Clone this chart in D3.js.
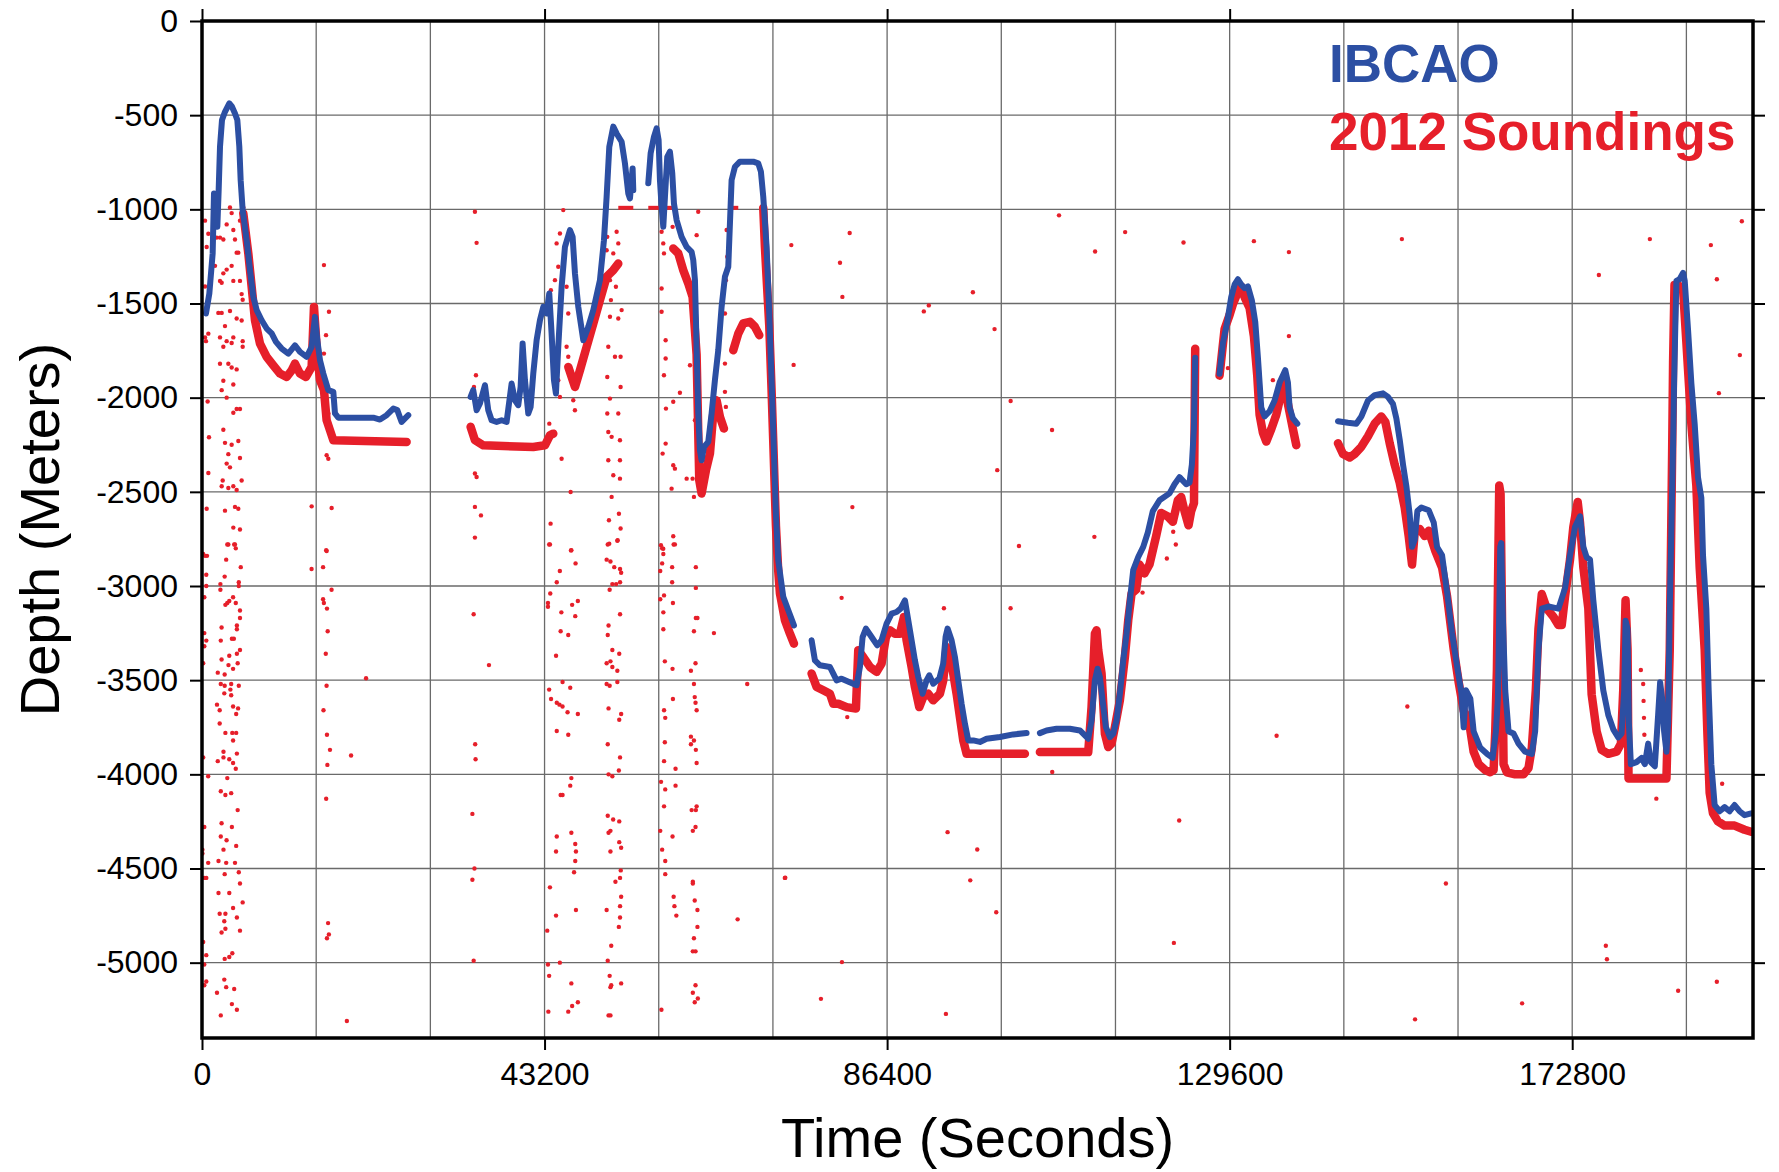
<!DOCTYPE html>
<html>
<head>
<meta charset="utf-8">
<script src="https://cdn.jsdelivr.net/npm/d3@7"></script>
<style>
  body { margin: 0; background: #fff; }
  text { font-family: "Liberation Sans", Arial, Helvetica, sans-serif; }
</style>
</head>
<body>
<div id="chart"></div>
<script>
// ---- tick values ----
let timeTicks = [0, 43200, 86400, 129600, 172800];
let timeGrid = [14400, 28800, 43200, 57600, 72000, 86400, 100800, 115200, 129600, 144000, 158400, 172800, 187200];
let depthTicks = [0, -500, -1000, -1500, -2000, -2500, -3000, -3500, -4000, -4500, -5000];

// ---- IBCAO depth along track [seconds, metres], one array per continuous leg ----
let ibcaoLeg1 = [[500,-1553],[925,-1447],[1345,-1234],[1513,-916],[1765,-1022],[1933,-1093],[2102,-898],[2270,-668],[2522,-526],[2900,-482],[3446,-437],[3783,-455],[4161,-491],[4455,-526],[4707,-668],[4875,-845],[5128,-1004],[5632,-1164],[6052,-1323],[6473,-1465],[6893,-1535],[7523,-1589],[8154,-1633],[8784,-1659],[9331,-1704],[10045,-1739],[10886,-1766],[11726,-1722],[12357,-1757],[13197,-1783],[13828,-1730],[14248,-1571],[14542,-1695],[14879,-1801],[15299,-1872],[15929,-1960],[16560,-1969],[16770,-2084],[17190,-2106],[21603,-2106],[22444,-2116],[23284,-2093],[24125,-2058],[24629,-2066],[25175,-2129],[26016,-2093]];
let ibcaoLeg2 = [[33876,-1996],[34212,-1960],[34633,-2067],[35053,-2031],[35683,-1934],[36104,-2067],[36524,-2120],[37155,-2129],[37785,-2120],[38415,-2129],[39046,-1925],[39466,-2014],[39886,-2040],[40181,-1943],[40433,-1713],[40727,-1907],[41147,-2084],[41441,-2049],[41778,-1872],[42198,-1695],[42618,-1589],[43039,-1518],[43459,-1553],[43795,-1447],[44089,-1660],[44384,-1907],[44636,-1978],[44930,-1730],[45354,-1411],[45774,-1199],[46404,-1110],[46741,-1146],[47035,-1341],[47455,-1518],[48086,-1695],[48716,-1624],[49346,-1535],[50187,-1376],[50691,-1164],[51028,-933],[51364,-668],[51868,-561],[52289,-597],[52919,-641],[53339,-756],[53760,-916],[53970,-942],[54306,-783],[54390,-898]];
let ibcaoLeg3 = [[56281,-862],[56576,-703],[56996,-615],[57332,-570],[57584,-632],[57752,-845],[57963,-986],[58173,-1093],[58383,-933],[58677,-721],[59013,-694],[59307,-809],[59518,-969],[59854,-1057],[60484,-1146],[61115,-1199],[61745,-1226],[61955,-1270],[62166,-1376],[62376,-1730],[62586,-2084],[62796,-2279],[63006,-2332],[63300,-2262],[63846,-2235],[64267,-2084],[64687,-1907],[65108,-1748],[65528,-1518],[65948,-1358],[66369,-1305],[66789,-845],[67209,-774],[67840,-747],[69521,-747],[70151,-756],[70487,-800],[70781,-933],[71202,-1199],[71538,-1553],[71832,-1907],[72042,-2173],[72378,-2616],[72672,-2864],[73306,-3058],[73937,-3129],[74651,-3209]];
let ibcaoLeg4 = [[76879,-3288],[77299,-3395],[77930,-3421],[79190,-3430],[79611,-3465],[80031,-3501],[80662,-3492],[82553,-3527],[82973,-3430],[83309,-3271],[83730,-3226],[84444,-3271],[85159,-3315],[85705,-3288],[86336,-3200],[86966,-3147],[87596,-3138],[88101,-3120],[88647,-3076],[89068,-3182],[89488,-3288],[89908,-3395],[90329,-3483],[90875,-3572],[91380,-3501],[91716,-3474],[92220,-3519],[92977,-3492],[93481,-3412],[93775,-3271],[94028,-3226],[94532,-3288],[94952,-3377],[95373,-3501],[95793,-3625],[96213,-3731],[96634,-3820],[97264,-3820],[98105,-3828],[98946,-3811],[100626,-3802],[102308,-3788],[103988,-3781]];
let ibcaoLeg5 = [[105669,-3781],[106510,-3767],[107771,-3758],[109452,-3758],[110713,-3767],[111344,-3793],[111764,-3811],[112184,-3713],[112606,-3501],[112942,-3439],[113236,-3483],[113572,-3607],[113992,-3749],[114497,-3802],[114917,-3784],[115337,-3713],[115757,-3572],[116178,-3395],[116598,-3253],[117018,-3076],[117439,-2916],[118069,-2846],[118700,-2792],[119281,-2716],[119912,-2602],[120753,-2545],[122015,-2508],[122646,-2460],[123277,-2422],[124119,-2460],[124540,-2451],[124834,-2356],[125087,-2167],[125255,-1788]];
let ibcaoLeg6 = [[128326,-1873],[128747,-1712],[129294,-1598],[129799,-1466],[130220,-1400],[130640,-1371],[131061,-1400],[131482,-1419],[131902,-1409],[132407,-1485],[132828,-1598],[133165,-1788],[133585,-2053],[134006,-2100],[134637,-2072],[135268,-2015],[135899,-1920],[136614,-1854],[136951,-1920],[137161,-2053],[137582,-2110],[138129,-2138]];
let ibcaoLeg7 = [[143261,-2125],[144523,-2133],[145575,-2138],[146206,-2100],[147047,-2015],[147888,-1987],[148940,-1977],[149571,-1996],[150202,-2034],[150623,-2110],[151044,-2223],[151464,-2356],[151885,-2470],[152306,-2621],[152600,-2792],[152937,-2754],[153273,-2602],[153778,-2583],[154711,-2598],[155340,-2663],[155759,-2793],[156388,-2837],[157017,-3033],[157645,-3250],[158274,-3424],[158819,-3565],[159113,-3750],[159406,-3554],[159951,-3598],[160370,-3772],[161209,-3859],[162047,-3891],[162760,-3913],[163179,-3772],[163430,-3598],[163724,-2793],[163850,-2772],[164017,-3120],[164353,-3554],[164772,-3772],[165401,-3783],[166030,-3837],[166868,-3880],[167707,-3891],[168126,-3772],[168545,-3337],[168964,-3120],[169803,-3109],[171060,-3120],[171899,-3011],[172528,-2837],[173157,-2685],[173785,-2630],[174205,-2793],[174624,-2848],[175043,-2859],[175462,-3076],[176091,-3337],[176720,-3554],[177349,-3685],[177978,-3761],[178606,-3804],[179025,-3783],[179360,-3554],[179528,-3185],[179780,-3228],[179947,-3728],[180199,-3946],[180911,-3935],[181540,-3913],[181959,-3946],[182379,-3837],[182714,-3935],[183217,-3957],[183636,-3685],[183888,-3511],[184139,-3598],[184391,-3772],[184684,-3880],[184894,-3728],[185103,-3120],[185313,-2685],[185522,-2250],[185648,-1924],[185816,-1598],[185942,-1380],[186361,-1370],[186780,-1337],[186990,-1380],[187409,-1641],[187828,-1924],[188247,-2141],[188666,-2424],[189086,-2533],[189295,-2837],[189714,-3120],[190008,-3554],[190343,-3946],[190762,-4163],[191391,-4196],[192020,-4174],[192649,-4196],[193277,-4163],[193906,-4196],[194535,-4217],[195373,-4207]];

// ---- 2012 soundings: main trace per leg ----
let soundLeg1 = [[5212,-1022],[5842,-1234],[6262,-1411],[6683,-1589],[7313,-1713],[8154,-1783],[8994,-1828],[9835,-1872],[10676,-1890],[11306,-1855],[11726,-1819],[12357,-1872],[13113,-1890],[13828,-1837],[14122,-1518],[14458,-1730],[14879,-1907],[15383,-1960],[15719,-2120],[16140,-2173],[16560,-2226],[25806,-2235]];
let soundLeg2a = [[33876,-2155],[34422,-2226],[35473,-2253],[41778,-2262],[43249,-2253],[43879,-2200],[44300,-2191]];
let soundLeg2b = [[46194,-1837],[47035,-1943],[47665,-1854],[48506,-1730],[49346,-1606],[50187,-1482],[51028,-1358],[51868,-1323],[52499,-1288]];
let soundLeg3a = [[59434,-1208],[60064,-1234],[60695,-1323],[61325,-1394],[61871,-1465],[62376,-1771],[62712,-2439],[63006,-2509],[63552,-2386],[64057,-2297],[64477,-2084],[64898,-2014],[65318,-2102],[65822,-2164]];
let soundLeg3b = [[66999,-1748],[67630,-1660],[68260,-1606],[69101,-1597],[69731,-1624],[70277,-1668]];
let soundLeg3c = [[70781,-992],[70991,-1199],[71250,-1400],[71540,-1620],[71830,-1960],[72040,-2230],[72380,-2680],[72670,-2920],[72886,-3040],[73516,-3182],[74147,-3253],[74651,-3306]];
let soundLeg4 = [[76879,-3465],[77510,-3536],[78350,-3554],[79190,-3572],[79611,-3625],[80241,-3625],[81292,-3643],[82469,-3651],[82763,-3341],[83393,-3377],[84234,-3430],[85075,-3456],[85705,-3412],[86252,-3271],[86756,-3235],[87386,-3253],[88017,-3253],[88521,-3164],[88857,-3288],[89488,-3430],[89908,-3536],[90455,-3643],[90959,-3589],[91590,-3572],[92220,-3607],[93061,-3572],[93481,-3501],[93902,-3324],[94322,-3377],[94742,-3465],[95163,-3572],[95583,-3696],[96003,-3820],[96424,-3891],[98105,-3891],[103778,-3891]];
let soundLeg5 = [[105669,-3882],[111764,-3882],[112184,-3643],[112606,-3253],[112816,-3235],[113026,-3341],[113446,-3465],[113866,-3784],[114287,-3855],[114707,-3837],[115127,-3749],[115757,-3607],[116388,-3377],[116808,-3182],[117229,-3040],[117808,-3019],[118229,-2886],[118860,-2933],[119491,-2886],[120332,-2735],[120964,-2612],[121805,-2631],[122436,-2659],[123067,-2545],[123488,-2527],[123909,-2602],[124413,-2678],[124750,-2602],[125100,-2560],[125255,-1740]];
let soundLeg6 = [[128326,-1883],[128957,-1636],[129588,-1561],[130009,-1504],[130640,-1438],[131061,-1409],[131482,-1466],[132113,-1523],[132660,-1674],[133081,-1883],[133375,-2091],[133796,-2186],[134217,-2233],[134847,-2167],[135478,-2091],[136109,-1977],[136530,-1902],[136951,-2034],[137582,-2167],[138002,-2252]];
let soundLeg7 = [[143261,-2242],[143892,-2299],[144733,-2318],[145364,-2299],[146206,-2261],[147047,-2205],[147888,-2138],[148729,-2100],[149234,-2129],[149781,-2242],[150412,-2356],[151044,-2451],[151674,-2583],[152179,-2735],[152600,-2886],[152937,-2716],[153568,-2697],[154199,-2735],[154711,-2707],[155549,-2815],[156388,-2902],[157017,-3054],[157855,-3337],[158484,-3511],[159113,-3663],[159741,-3707],[160370,-3880],[161000,-3946],[161838,-3978],[162467,-3989],[162886,-3978],[163095,-3772],[163305,-3446],[163598,-2467],[163766,-2511],[163933,-3120],[164143,-3946],[164562,-3989],[165610,-4000],[166658,-4000],[167287,-3967],[167707,-3859],[168210,-3554],[168545,-3228],[168964,-3043],[169593,-3120],[170432,-3163],[171060,-3207],[171479,-3207],[171899,-3054],[172528,-2859],[172947,-2685],[173492,-2554],[173785,-2663],[174205,-2902],[174834,-3120],[175253,-3576],[175882,-3772],[176511,-3870],[177349,-3891],[178397,-3880],[178941,-3837],[179234,-3554],[179528,-3076],[179780,-3337],[179900,-4022],[184684,-4022],[185103,-3337],[185400,-2300],[185522,-1815],[185700,-1402],[186152,-1402],[186780,-1424],[187200,-1707],[187828,-2141],[188457,-2467],[188876,-2902],[189505,-3337],[189840,-3772],[190134,-4098],[190553,-4207],[191182,-4250],[192020,-4272],[193277,-4272],[194535,-4294],[195373,-4305]];

// soundings pinned at the -1000 m gate: [start, end] seconds
let clippedRuns = [[52499,54390],[56281,59434],[66369,67630],[70361,70781]];
let clippedDepth = -992;

// ---- 2012 soundings: scattered returns ----
let scatterStartUpper = [[380,-1060],[800,-1130],[590,-1200],[1430,-1110],[1640,-1060],[1850,-1150],[2270,-1150],[2690,-1160],[3110,-1080],[3530,-990],[3740,-1020],[3950,-1110],[4160,-1160],[4370,-1230],[4790,-1060],[5000,-1020],[5210,-990],[5420,-1130],[380,-1410],[1010,-1380],[1640,-1300],[2270,-1380],[2480,-1390],[2690,-1340],[3110,-1320],[3740,-1300],[3950,-1380],[4580,-1230],[4790,-1380],[5000,-1450],[5130,-1480],[380,-1680],[800,-1660],[500,-1700],[2060,-1550],[2480,-1550],[2900,-1620],[3530,-1540],[4370,-1580],[5000,-1590],[2270,-1680],[2690,-1730],[3110,-1700],[3740,-1710],[3950,-1680],[5130,-1700],[5130,-1730],[2270,-1820],[3320,-1820],[3740,-1840],[4370,-1850],[2690,-1910],[3950,-1930],[2480,-1960],[3110,-2000],[3950,-2080],[4370,-2060],[4790,-2060],[710,-2020],[880,-2210],[2690,-2170],[2900,-2240],[3740,-2250],[3320,-2300],[4580,-2230],[4790,-2320],[3110,-2350],[3530,-2370],[800,-2400],[2610,-2440],[2480,-2470],[3320,-2480],[3950,-2470],[4370,-2490],[5000,-2440],[4580,-2590],[2900,-2600],[4160,-2580],[3950,-2690],[4790,-2700],[3320,-2780],[4160,-2780],[590,-2590],[380,-2840]];
let scatterStartLower = [[150,-2830],[630,-2840],[540,-2940],[540,-3000],[290,-3060],[290,-3250],[540,-3290],[290,-3320],[150,-3410],[150,-3910],[780,-4010],[290,-4280],[50,-4400],[50,-4420],[780,-4470],[290,-4550],[540,-4550],[150,-4890],[540,-4960],[290,-5010],[540,-5100],[290,-5120],
  [3190,-2780],[4060,-2780],[4260,-2800],[3050,-2860],[4890,-2900],[2860,-2950],[4640,-2980],[2320,-2990],[4640,-3000],[2320,-3020],[3920,-3060],[3440,-3080],[3190,-3090],[2950,-3100],[4260,-3090],[4790,-3130],[4790,-3170],[4400,-3210],[2470,-3220],[4400,-3230],[3770,-3280],[4020,-3280],[2370,-3290],[4790,-3340],[3440,-3370],[4400,-3360],[2470,-3390],[4500,-3410],[3340,-3420],[3920,-3440],[1990,-3460],[2860,-3470],[2370,-3520],[2860,-3530],[3680,-3520],[4640,-3530],[2810,-3570],[3680,-3580],[3580,-3550],[1890,-3630],[3920,-3640],[4550,-3650],[2230,-3660],[4310,-3680],[2230,-3730],[2950,-3780],[3820,-3780],[4310,-3780],[3920,-3820],[2710,-3880],[4400,-3890],[1990,-3930],[2710,-3910],[3440,-3920],[3920,-3940],[4260,-3970],[3190,-4020],[2370,-4090],[2950,-4110],[3680,-4100],[4500,-4190],[2470,-4260],[3770,-4280],[2370,-4330],[3100,-4350],[4310,-4380],[2710,-4400],[2080,-4460],[3050,-4470],[4160,-4470],[2860,-4530],[4640,-4520],[4790,-4580],[2080,-4630],[3440,-4630],[5130,-4680],[3920,-4710],[2230,-4740],[2950,-4740],[4400,-4760],[2810,-4780],[2950,-4820],[2470,-4840],[4790,-4830],[3820,-4950],[3440,-4970],[2860,-4980],[2810,-5090],[3050,-5130],[4060,-5140],[1890,-5160],[3770,-5220],[4400,-5250],[2370,-5280]];
let scatter15k = [[15380,-1296],[16010,-1544],[15640,-1668],[15380,-1766],[15380,-1996],[15720,-2040],[15930,-2084],[15720,-2306],[15930,-2324],[16350,-2586],[13830,-2577],[15720,-2814],
  [13820,-2910],[15270,-2900],[15660,-2810],[16340,-3020],[15270,-3070],[15370,-3090],[15760,-3120],[15850,-3240],[15610,-3360],[15710,-3530],[15320,-3660],[15760,-3790],[16140,-3870],[18800,-3900],[15810,-3950],[20690,-3490],[15660,-4130],[15900,-4790],[16000,-4850],[15760,-4870],[18270,-5310]];
let scatter34k = [[34420,-1013],[34630,-1178],[34550,-1881],[34300,-1943],[34420,-2403],[34630,-2421],[34420,-2580],[35180,-2625],[34420,-2743],
  [34260,-3150],[36190,-3420],[34450,-3840],[34500,-3920],[34100,-4210],[34360,-4500],[34100,-4560],[34260,-4990]];
let scatter44k = [[43800,-2138],[44000,-1429],[45350,-2324],[46490,-2501],[43960,-2669],[43880,-2779],[46530,-2811],[45560,-1004],[45140,-1128],[44720,-1181],[44930,-1305],[44510,-1376],[45980,-1411],[46190,-1553],[45980,-1730],[46190,-1783],[44930,-1907],[45140,-1996],[46820,-2014],[47030,-2067],
  [43780,-2780],[46580,-2810],[47110,-2880],[45130,-2920],[44740,-2980],[43920,-3040],[43630,-3090],[43630,-3110],[45320,-3140],[46680,-3100],[47400,-3080],[47070,-3160],[45230,-3240],[46190,-3260],[44650,-3370],[43780,-3550],[45470,-3510],[46440,-3540],[44020,-3600],[44740,-3620],[45080,-3630],[45470,-3640],[46100,-3670],[47400,-3680],[44740,-3770],[46190,-3790],[46580,-4020],[46440,-4060],[45230,-4110],[45470,-4110],[44740,-4330],[46580,-4310],[47070,-4370],[47160,-4410],[47070,-4460],[44650,-4410],[46920,-4520],[43880,-4600],[47160,-4720],[44650,-4750],[43540,-4830],[43630,-5010],[45130,-5000],[43780,-5070],[46580,-5110],[47400,-5210],[46680,-5230],[46190,-5260],[43680,-5260]];
let scatter51k = [[51110,-1146],[51240,-1730],[51110,-1890],[51450,-2005],[51110,-2084],[52500,-2084],[51240,-2182],[51660,-2208],[52710,-2332],[51240,-2332],[51870,-2412],[52710,-2430],[51660,-2527],[52580,-2616],[51320,-2651],[52790,-2695],[52420,-2757],[51360,-2775],[52710,-2226],[52790,-1943],[52080,-1783],[52790,-1783],[52500,-1580],[52920,-1535],[51450,-1570],[51570,-1482],[52200,-1411],[52290,-1305],[51870,-1234],[52500,-1181],[52290,-1119],[51030,-1217],[51450,-1376],
  [51170,-2780],[52380,-2760],[51030,-2860],[51510,-2870],[51990,-2900],[52720,-2910],[52860,-2930],[52720,-2980],[51750,-2990],[52230,-2990],[51410,-3020],[52720,-3150],[51270,-3210],[51170,-3260],[51750,-3340],[52620,-3360],[51030,-3410],[51510,-3400],[51750,-3430],[52380,-3450],[51030,-3520],[51410,-3530],[52380,-3510],[51270,-3650],[52860,-3680],[52620,-3710],[51170,-3840],[52720,-3910],[52570,-3980],[51270,-4000],[51750,-4010],[51170,-4220],[51850,-4240],[52620,-4250],[51510,-4300],[51270,-4310],[52620,-4360],[52860,-4390],[51510,-4410],[52810,-4510],[52720,-4550],[52140,-4570],[52860,-4650],[52720,-4700],[51030,-4720],[52720,-4760],[52570,-4810],[51610,-4910],[51170,-4990],[51410,-5070],[51610,-5120],[51510,-5130],[52860,-5110],[51270,-5280],[51510,-5280]];
let scatter58k = [[57960,-1119],[58170,-1181],[58260,-1234],[57960,-1420],[57960,-1544],[58470,-1695],[58470,-1792],[58260,-1881],[59430,-2022],[58510,-2058],[60270,-1974],[58470,-2244],[58090,-2297],[59430,-2359],[59640,-2377],[59220,-2483],[59430,-2736],[59640,-2779],[58170,-2802],[57880,-2784],[59350,-1093],[62580,-1013],[62380,-1137],[61540,-1828],[62170,-2120],[61120,-2430],[61870,-2430],[62040,-2527],
  [58030,-2800],[59480,-2780],[58180,-2830],[58030,-2880],[59290,-2900],[57790,-2920],[62280,-2900],[59290,-2980],[62280,-3010],[58270,-3050],[57790,-3070],[59390,-3090],[58180,-3140],[62280,-3170],[62480,-3170],[58180,-3230],[62040,-3240],[64560,-3250],[58370,-3400],[62240,-3410],[59340,-3440],[61660,-3450],[62040,-3520],[62140,-3590],[62240,-3620],[62380,-3660],[59390,-3600],[58270,-3660],[58420,-3700],[61660,-3800],[62040,-3820],[61660,-3840],[62280,-3870],[58370,-3830],[58270,-3930],[59720,-3970],[62380,-3940],[57890,-4040],[58420,-4080],[59720,-4060],[62380,-4170],[61750,-4190],[62280,-4190],[58270,-4170],[62240,-4280],[61900,-4300],[57790,-4300],[59340,-4330],[58030,-4400],[58420,-4460],[58420,-4530],[61900,-4570],[61900,-4580],[62140,-4670],[59480,-4650],[59580,-4700],[62480,-4720],[59820,-4750],[62480,-4810],[62040,-4870],[61900,-4940],[62240,-4940],[62240,-5120],[61900,-5160],[62530,-5190],[62140,-5210],[57940,-5250]];
let scatter66k = [[66160,-1110],[66240,-1252],[66070,-1376],[65950,-1553],[65950,-1819],[65950,-1969],[66070,-2049],[68760,-3520],[67550,-4770],[73500,-4550]];
let scatterMiddle = [[74320,-1190],[81680,-1126],[80460,-1284],[80760,-1465],[74610,-1826],[82020,-2581],[91030,-1542],[91660,-1510],[97220,-1440],[99950,-1636],[101980,-2018],[100290,-2385],[107200,-2172],[103030,-2788],[108080,-1032],[112630,-1224],[116420,-1121],[123780,-1176],[112540,-2739],[121680,-2854],[122810,-2780],[122480,-2712],
  [80662,-3063],[93565,-3118],[101971,-3118],[118616,-3035],[81376,-3696],[107225,-3988],[123236,-4245],[94028,-4307],[97768,-4399],[73559,-4549],[96886,-4563],[100164,-4732],[122565,-4895],[80704,-4997],[78056,-5192],[93817,-5272]];
let scatterRight = [[132657,-1169],[137071,-1227],[151320,-1158],[137071,-1673],[182593,-1158],[176162,-1349],[190286,-1190],[191042,-1371],[194194,-1063],[193942,-1774],[191294,-1976],[135053,-1907],[129379,-1843],[135520,-3795],[152011,-3640],
  [156870,-4580],[152980,-5301],[166480,-5216],[177040,-4910],[177180,-4982],[186160,-5149],[191040,-5101],[183410,-4129],[191710,-4050],[181456,-3446],[181750,-3520],[181800,-3610],[181850,-3700],[181900,-3790]];

let ibcaoLegs = [ibcaoLeg1, ibcaoLeg2, ibcaoLeg3, ibcaoLeg4, ibcaoLeg5, ibcaoLeg6, ibcaoLeg7];
let soundLegs = [soundLeg1, soundLeg2a, soundLeg2b, soundLeg3a, soundLeg3b, soundLeg3c, soundLeg4, soundLeg5, soundLeg6, soundLeg7];
let scatter = [].concat(scatterStartUpper, scatterStartLower, scatter15k, scatter34k, scatter44k, scatter51k, scatter58k, scatter66k, scatterMiddle, scatterRight);

let blue = "#2c4fa3";
let red = "#e61f2a";

let svgWidth = 1779;
let svgHeight = 1172;
let margin = { top: 21, right: 26, bottom: 134, left: 202 };
let width = svgWidth - margin.left - margin.right;
let height = svgHeight - margin.top - margin.bottom;

let svg = d3.select("#chart")
  .append("svg")
  .attr("width", svgWidth)
  .attr("height", svgHeight);

let chartGroup = svg.append("g")
  .attr("transform", `translate(${margin.left}, ${margin.top})`);

let x = d3.scaleLinear().domain([0, 195600]).range([0, width]);
let y = d3.scaleLinear().domain([-5400, 0]).range([height, 0]);

svg.append("defs").append("clipPath").attr("id", "plotClip")
  .append("rect").attr("width", width).attr("height", height);

// grid
chartGroup.append("g").selectAll("line")
  .data(timeGrid)
  .enter().append("line")
  .attr("x1", d => x(d)).attr("x2", d => x(d))
  .attr("y1", 0).attr("y2", height)
  .attr("stroke", "#6a6a6a").attr("stroke-width", 1.3);

chartGroup.append("g").selectAll("line")
  .data(depthTicks.filter(d => d < 0))
  .enter().append("line")
  .attr("x1", 0).attr("x2", width)
  .attr("y1", d => y(d)).attr("y2", d => y(d))
  .attr("stroke", "#6a6a6a").attr("stroke-width", 1.3);

let plot = chartGroup.append("g").attr("clip-path", "url(#plotClip)");

let line = d3.line().x(d => x(d[0])).y(d => y(d[1]));

// scattered soundings
plot.append("g").selectAll("circle")
  .data(scatter)
  .enter().append("circle")
  .attr("cx", d => x(d[0]))
  .attr("cy", d => y(d[1]))
  .attr("r", 2.2)
  .attr("fill", red);

// gated soundings
plot.append("g").selectAll("line")
  .data(clippedRuns)
  .enter().append("line")
  .attr("x1", d => x(d[0])).attr("x2", d => x(d[1]))
  .attr("y1", y(clippedDepth)).attr("y2", y(clippedDepth))
  .attr("stroke", red).attr("stroke-width", 4);

// sounding traces
plot.append("g").selectAll("path")
  .data(soundLegs)
  .enter().append("path")
  .attr("d", line)
  .attr("fill", "none")
  .attr("stroke", red)
  .attr("stroke-width", 8.5)
  .attr("stroke-linejoin", "round")
  .attr("stroke-linecap", "round");

// IBCAO traces
plot.append("g").selectAll("path")
  .data(ibcaoLegs)
  .enter().append("path")
  .attr("d", line)
  .attr("fill", "none")
  .attr("stroke", blue)
  .attr("stroke-width", 6)
  .attr("stroke-linejoin", "round")
  .attr("stroke-linecap", "round");

// axes
function styleAxis(g) {
  g.select(".domain").remove();
  g.selectAll(".tick line").attr("stroke", "#000").attr("stroke-width", 2);
  g.selectAll(".tick text")
    .attr("fill", "#000")
    .attr("font-size", 32)
    .attr("font-family", "'Liberation Sans', Arial, Helvetica, sans-serif");
}

chartGroup.append("g")
  .attr("transform", `translate(0, ${height})`)
  .call(d3.axisBottom(x).tickValues(timeTicks).tickSize(12).tickPadding(12).tickFormat(d => String(d)))
  .call(styleAxis);

chartGroup.append("g")
  .call(d3.axisTop(x).tickValues(timeTicks).tickSize(12).tickFormat(""))
  .call(styleAxis);

chartGroup.append("g")
  .call(d3.axisLeft(y).tickValues(depthTicks).tickSize(12).tickPadding(12).tickFormat(d => String(d)))
  .call(styleAxis);

chartGroup.append("g")
  .attr("transform", `translate(${width}, 0)`)
  .call(d3.axisRight(y).tickValues(depthTicks).tickSize(12).tickFormat(""))
  .call(styleAxis);

// frame
chartGroup.append("rect")
  .attr("width", width)
  .attr("height", height)
  .attr("fill", "none")
  .attr("stroke", "#000")
  .attr("stroke-width", 3.5);

// axis titles
svg.append("text")
  .attr("x", margin.left + width / 2)
  .attr("y", 1157)
  .attr("text-anchor", "middle")
  .attr("font-size", 56)
  .text("Time (Seconds)");

svg.append("text")
  .attr("transform", `translate(59, ${margin.top + height / 2}) rotate(-90)`)
  .attr("text-anchor", "middle")
  .attr("font-size", 56)
  .text("Depth (Meters)");

// legend
svg.append("text")
  .attr("x", 1329).attr("y", 82)
  .attr("font-family", "'Open Sans', 'Noto Sans', sans-serif")
  .attr("font-weight", 700)
  .attr("font-size", 53)
  .attr("fill", blue)
  .text("IBCAO");

svg.append("text")
  .attr("x", 1329).attr("y", 150)
  .attr("font-family", "'Open Sans', 'Noto Sans', sans-serif")
  .attr("font-weight", 700)
  .attr("font-size", 53)
  .attr("fill", red)
  .text("2012 Soundings");
</script>
</body>
</html>
